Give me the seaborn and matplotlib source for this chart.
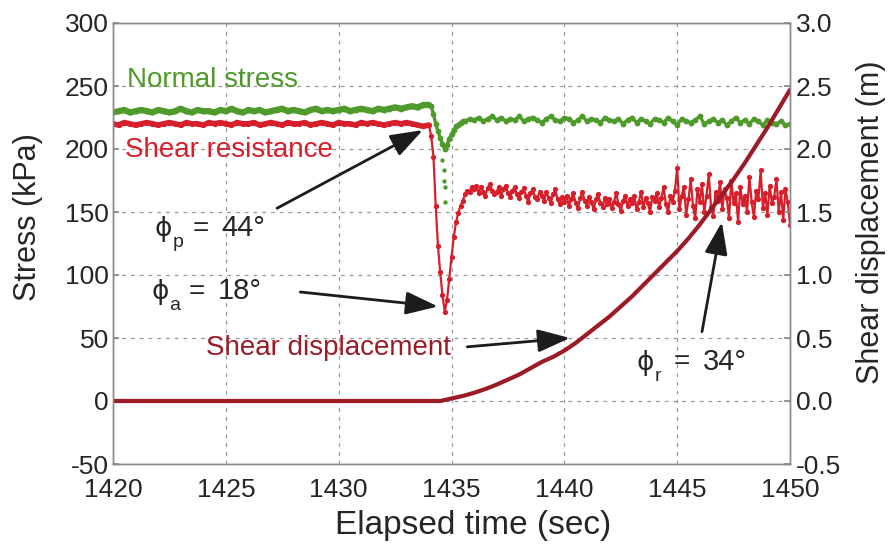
import numpy as np
import pandas as pd
import matplotlib
matplotlib.use("Agg")
import matplotlib.pyplot as plt
import seaborn as sns

# ---------------- data ----------------
# pre-failure part, sampled every 0.25 s from 1420.0 s
pre_start, pre_step = 1420.0, 0.25
normal_pre = [229, 230, 231, 229, 230, 231, 230, 229, 231, 230,
              229, 230, 232, 230, 229, 231, 230, 230, 229, 231,
              230, 232, 230, 229, 231, 230, 231, 229, 230, 231,
              232, 230, 231, 230, 229, 231, 232, 230, 231, 230,
              231, 232, 230, 231, 232, 231, 230, 232, 231, 232,
              233, 232, 233, 234, 233, 235]
shear_pre = [220, 219, 221, 220, 219, 220, 221, 220, 219, 220,
             221, 220, 219, 221, 220, 220, 219, 221, 220, 221,
             220, 219, 221, 220, 220, 221, 219, 220, 221, 220,
             219, 221, 220, 220, 221, 219, 220, 221, 220, 219,
             221, 220, 220, 219, 221, 220, 221, 220, 219, 220,
             221, 220, 221, 220, 219, 218]

# failure + residual part of shear resistance, every 0.1 s from 1434.0 s
fail_start, fail_step = 1434.0, 0.1
shear_fail = [219, 210, 194, 155, 123, 102, 84, 71, 80, 97,
              114, 130, 142, 149, 155, 159, 164, 167, 166, 170,
              168, 171, 165, 170, 166, 163, 169, 172, 167, 164,
              166, 170, 163, 168, 171, 165, 162, 167, 170, 164,
              161, 166, 169, 163, 158, 165, 168, 162, 160, 166,
              163, 159, 166, 161, 157, 164, 168, 160, 156, 162,
              158, 163, 155, 160, 165, 157, 153, 161, 166, 159,
              155, 162, 158, 152, 160, 164, 157, 154, 161, 156,
              160, 153, 158, 165, 156, 151, 159, 163, 155, 160,
              157, 163, 152, 158, 166, 154, 161, 157, 150, 162,
              159, 165, 154, 161, 170, 156, 150, 163, 158, 167,
              185, 152, 163, 170, 148, 160, 176, 155, 145, 168,
              158, 172, 150, 163, 180, 154, 147, 166, 159, 174,
              152, 168, 161, 145, 175, 157, 165, 142, 170, 156,
              163, 150, 178, 158, 146, 167, 160, 183, 153, 165,
              148, 171, 157, 162, 176, 150, 166, 144, 168, 158,
              140]

# normal stress during failure, every 0.1 s from 1434.0 s
normal_fail = [235, 234, 228, 220, 214, 209, 204, 200, 203, 208,
               212, 215, 218, 219, 221, 222]
# normal stress residual, every 0.2 s from 1435.6 s
res_start, res_step = 1435.6, 0.2
normal_res = [222, 224, 223, 225, 222, 224, 226, 223, 225, 222,
              224, 223, 226, 222, 224, 225, 223, 221, 224, 226,
              223, 222, 225, 224, 221, 223, 226, 222, 224, 223,
              221, 225, 223, 222, 224, 220, 223, 225, 221, 224,
              222, 220, 224, 223, 221, 225, 222, 219, 224, 222,
              221, 223, 226, 220, 222, 224, 221, 223, 219, 222,
              225, 221, 223, 220, 224, 222, 219, 223, 221, 220,
              222, 219, 220]
# isolated normal-stress readings during the drop
normal_out_t = [1434.6, 1434.65, 1434.65, 1434.7, 1434.7]
normal_out_v = [191, 183, 175, 170, 158]

# shear displacement (m)
disp_t = [1420.0, 1434.5, 1435.0, 1435.5, 1436.0, 1436.5, 1437.0, 1437.5,
          1438.0, 1438.5, 1439.0, 1439.5, 1440.0, 1440.5, 1441.0, 1441.5,
          1442.0, 1442.5, 1443.0, 1443.5, 1444.0, 1444.5, 1445.0, 1445.5,
          1446.0, 1446.5, 1447.0, 1447.5, 1448.0, 1448.5, 1449.0, 1449.5,
          1450.0]
disp_v = [0.0, 0.0, 0.02, 0.04, 0.065, 0.095, 0.13, 0.17,
          0.21, 0.26, 0.31, 0.35, 0.40, 0.46, 0.53, 0.60,
          0.67, 0.75, 0.83, 0.92, 1.01, 1.10, 1.19, 1.29,
          1.40, 1.52, 1.64, 1.76, 1.89, 2.03, 2.17, 2.32,
          2.47]

x_ticks = [1420, 1425, 1430, 1435, 1440, 1445, 1450]
y_ticks = [-50, 0, 50, 100, 150, 200, 250, 300]
y2_ticks = [-0.5, 0.0, 0.5, 1.0, 1.5, 2.0, 2.5, 3.0]

# ---------------- build tables ----------------
def times(start, step, n):
    return [round(start + step * i, 3) for i in range(n)]

shear_pre_df = pd.DataFrame({"t": times(pre_start, pre_step, len(shear_pre)) + [fail_start],
                             "v": shear_pre + [shear_fail[0]]})
shear_df = pd.DataFrame({
    "t": times(pre_start, pre_step, len(shear_pre)) + times(fail_start, fail_step, len(shear_fail)),
    "v": shear_pre + shear_fail})
normal_pre_df = pd.DataFrame({"t": times(pre_start, pre_step, len(normal_pre)) + [fail_start],
                              "v": normal_pre + [normal_fail[0]]})
normal_df = pd.DataFrame({
    "t": times(pre_start, pre_step, len(normal_pre)) + times(fail_start, fail_step, len(normal_fail))
         + times(res_start, res_step, len(normal_res)),
    "v": normal_pre + normal_fail + normal_res})
out_df = pd.DataFrame({"t": normal_out_t, "v": normal_out_v})
disp_df = pd.DataFrame({"t": disp_t, "v": disp_v})

# ---------------- style ----------------
sns.set_theme(style="white")
plt.rcParams["font.family"] = ["Liberation Sans", "DejaVu Sans"]
plt.rcParams["axes.edgecolor"] = "#8a8a8a"

GREEN = "#4e9a2b"
RED = "#d61f2a"
DARK = "#9c1b25"
TXT = "#262626"

fig, ax = plt.subplots(figsize=(8.93, 5.57), dpi=100)
fig.subplots_adjust(left=113 / 893, right=790 / 893, top=1 - 23 / 557, bottom=1 - 464 / 557)

ax.grid(True, color="#9a9a9a", linestyle=(0, (3, 4)), linewidth=0.9)
ax.set_axisbelow(True)

# normal stress
sns.lineplot(data=normal_df, x="t", y="v", ax=ax, color=GREEN, lw=2.4, sort=False,
             marker="o", markersize=4.2, markeredgewidth=0, estimator=None)
sns.lineplot(data=normal_pre_df, x="t", y="v", ax=ax, color=GREEN, lw=4.5, sort=False, estimator=None)
sns.scatterplot(data=out_df, x="t", y="v", ax=ax, color=GREEN, s=10, linewidth=0)
# shear resistance
sns.lineplot(data=shear_df, x="t", y="v", ax=ax, color=RED, lw=1.6, sort=False,
             marker="o", markersize=3.8, markeredgewidth=0, estimator=None)
sns.lineplot(data=shear_pre_df, x="t", y="v", ax=ax, color=RED, lw=4.0, sort=False, estimator=None)

ax.set_xlim(1420, 1450)
ax.set_ylim(-50, 300)
ax.set_xticks(x_ticks)
ax.set_yticks(y_ticks)
ax.set_xticklabels([str(v) for v in x_ticks])
ax.set_yticklabels([str(v) for v in y_ticks])
ax.tick_params(axis="both", labelsize=19, colors=TXT, direction="in", length=4, color="#8a8a8a")
ax.tick_params(axis="x", pad=10)
ax.tick_params(axis="y", pad=3)
ax.set_xlabel("Elapsed time (sec)", fontsize=24, color=TXT)
ax.xaxis.set_label_coords((473 - 113) / 677, -0.105)
ax.set_ylabel("Stress (kPa)", fontsize=22, color=TXT)
ax.yaxis.set_label_coords(-0.103, (464 - 217) / 441)

ax2 = ax.twinx()
sns.lineplot(data=disp_df, x="t", y="v", ax=ax2, color=DARK, lw=3, sort=False, estimator=None)
ax2.set_ylim(-0.5, 3.0)
ax2.set_yticks(y2_ticks)
ax2.set_yticklabels([f"{v:.1f}" for v in y2_ticks])
ax2.tick_params(axis="y", labelsize=19, colors=TXT, direction="in", length=4, color="#8a8a8a", pad=4)
ax2.set_ylabel("Shear displacement (m)", fontsize=22, color=TXT)
ax2.yaxis.set_label_coords(1.097, (464 - 222) / 441)
ax2.set_xlim(1420, 1450)
for a in (ax, ax2):
    for s in a.spines.values():
        s.set_color("#8a8a8a")
        s.set_linewidth(1.0)

# ---------------- annotations ----------------
ax.text(1420.62, 255, "Normal stress", color=GREEN, fontsize=20, va="center", ha="left")
ax.text(1420.55, 199.5, "Shear resistance", color=RED, fontsize=20, va="center", ha="left")
ax.text(1424.1, 42, "Shear displacement", color=DARK, fontsize=20, va="center", ha="left")

PHI_FAM = ["DejaVu Sans"]
VAL_FAM = ["Liberation Sans Narrow", "Liberation Sans", "DejaVu Sans"]

def phi_label(x, y, sub, rest):
    ax.text(x, y, "\u03d5", fontsize=19, color=TXT, family=PHI_FAM, ha="left", va="baseline")
    ax.annotate(sub, xy=(x, y), xycoords="data", xytext=(13, -8), textcoords="offset points",
                fontsize=14, color=TXT, family=VAL_FAM, ha="left", va="baseline")
    ax.annotate("=", xy=(x, y), xycoords="data", xytext=(27, 0), textcoords="offset points",
                fontsize=20, color=TXT, family=VAL_FAM, ha="left", va="baseline")
    ax.annotate(rest, xy=(x, y), xycoords="data", xytext=(48, 0), textcoords="offset points",
                fontsize=21, color=TXT, family=VAL_FAM, ha="left", va="baseline")

phi_label(1421.85, 131, "p", "44°")
phi_label(1421.7, 81, "a", "18°")
phi_label(1443.2, 25, "r", "34°")

arrow = dict(arrowstyle="-|>,head_length=0.9,head_width=0.32", lw=2.0, color="#1c1c1c",
             mutation_scale=22, shrinkA=0, shrinkB=0)
ax.annotate("", xy=(1433.73, 215), xytext=(1427.27, 153), arrowprops=arrow)
ax.annotate("", xy=(1434.4, 75), xytext=(1428.3, 86.5), arrowprops=arrow)
ax.annotate("", xy=(1440.25, 50), xytext=(1435.7, 43), arrowprops=arrow)
ax.annotate("", xy=(1446.98, 142), xytext=(1446.1, 55), arrowprops=arrow)

fig.savefig("out.png", dpi=100, facecolor="white")
